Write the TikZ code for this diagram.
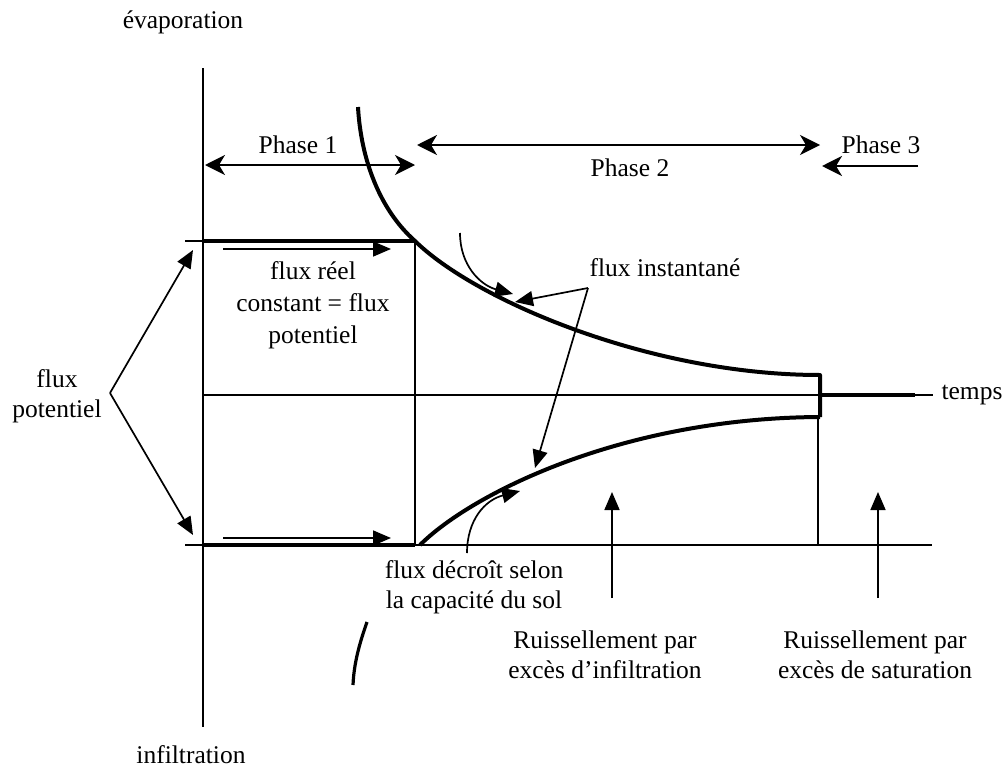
\documentclass[tikz,border=0pt]{standalone}
\usepackage{fontspec}
\setmainfont{Liberation Serif}
\usetikzlibrary{arrows.meta}
\begin{document}
\begin{tikzpicture}[x=1pt,y=-1pt,
  lbl/.style={font=\fontsize{25.5}{30}\selectfont, inner sep=0pt, align=center},
  thinln/.style={line width=1.7pt},
  thickln/.style={line width=4pt},
  tri/.style={line width=1.7pt, -{Triangle[length=18pt,width=15pt]}},
  dbl/.style={line width=1.7pt, {Stealth[length=20pt,width=20pt,inset=6pt]}-{Stealth[length=20pt,width=20pt,inset=6pt]}},
  sgl/.style={line width=1.7pt, -{Stealth[length=20pt,width=20pt,inset=6pt]}}]
\useasboundingbox (0,0) rectangle (1007,771);

% ---- coordinates
\coordinate (vTop) at (203,68);
\coordinate (vBot) at (203,727);
\coordinate (tL) at (185,241);
\coordinate (tA) at (203,241);
\coordinate (tB) at (415,241);
\coordinate (mA) at (203,395);
\coordinate (mB) at (933,395);
\coordinate (mThickA) at (820,395);
\coordinate (mThickB) at (915,395);
\coordinate (bL) at (185,545);
\coordinate (bA) at (203,545);
\coordinate (bB) at (415,545);
\coordinate (bR) at (932,545);
\coordinate (vmA) at (415,241);
\coordinate (vmB) at (415,545);
\coordinate (vrA) at (818,417);
\coordinate (vrB) at (818,545);
\coordinate (upS) at (358,107);
\coordinate (stepA) at (820,375);
\coordinate (stepB) at (820,417);
\coordinate (lowS) at (420,545);

% ---- axes and grid lines
\draw[thinln] (vTop) -- (vBot);
\draw[thinln] (tL) -- (tA);
\draw[thickln] (tA) -- (tB);
\draw[thinln] (mA) -- (mB);
\draw[thickln] (mThickA) -- (mThickB);
\draw[thinln] (bL) -- (bR);
\draw[thickln] (bA) -- (bB);
\draw[thinln] (vmA) -- (vmB);
\draw[thinln] (vrA) -- (vrB);

% ---- curves
\draw[thickln, line join=round] (upS) .. controls (361,160) and (380,210) .. (tB)
  .. controls (475,300) and (650,375) .. (stepA) -- (stepB);
\draw[thickln] (lowS) .. controls (470,495) and (620,418) .. (stepB);
\draw[line width=3.2pt] (367,622) .. controls (360,642) and (354,662) .. (353,685);

% ---- text
\node[lbl] (ev) at (183,22) {évaporation};
\node[lbl] (inf) at (191,755) {infiltration};
\node[lbl] (p1) at (298,145) {Phase 1};
\node[lbl] (p2) at (630,168) {Phase 2};
\node[lbl] (p3) at (881,145) {Phase 3};
\node[lbl, font=\fontsize{25.5}{32}\selectfont] (fr) at (313,305) {flux réel\\constant = flux\\potentiel};
\node[lbl] (fp) at (57,396) {flux\\potentiel};
\node[lbl] (fi) at (665,268) {flux instantané};
\node[lbl] (fd) at (474,587) {flux décroît selon\\la capacité du sol};
\node[lbl] (r1) at (605,655) {Ruissellement par\\excès d’infiltration};
\node[lbl] (r2) at (875,655) {Ruissellement par\\excès de saturation};
\node[lbl] (tp) at (972,395) {temps};

% ---- phase arrows
\coordinate (p1L) at (205,165);
\coordinate (p1R) at (415,165);
\coordinate (p2L) at (417,145);
\coordinate (p2R) at (820,145);
\coordinate (p3S) at (918,166);
\coordinate (p3E) at (822,166);
\draw[dbl] (p1L) -- (p1R);
\draw[dbl] (p2L) -- (p2R);
\draw[sgl] (p3S) -- (p3E);

% ---- flux potentiel arrows
\coordinate (fpApex) at (110,393);
\coordinate (fpTop) at (193,250);
\coordinate (fpBot) at (193,535);
\draw[tri] (fpApex) -- (fpTop);
\draw[tri] (fpApex) -- (fpBot);

% ---- flux reel arrows
\coordinate (frTa) at (223,249);
\coordinate (frTb) at (391,249);
\coordinate (frBa) at (223,538);
\coordinate (frBb) at (391,538);
\draw[tri] (frTa) -- (frTb);
\draw[tri] (frBa) -- (frBb);

% ---- flux instantane arrows
\coordinate (fiApex) at (588,288);
\coordinate (fiUp) at (515,302);
\coordinate (fiLow) at (535,468);
\draw[tri] (fiApex) -- (fiUp);
\draw[tri] (fiApex) -- (fiLow);
\coordinate (cuA) at (460,233);
\coordinate (cuB) at (513,294);
\draw[tri] (cuA) .. controls (460,265) and (480,285) .. (cuB);

% ---- flux decroit arrow
\coordinate (cdA) at (467,553);
\coordinate (cdB) at (520,491);
\draw[tri] (cdA) .. controls (467,520) and (485,500) .. (cdB);

% ---- ruissellement arrows
\coordinate (r1A) at (612,598);
\coordinate (r1B) at (612,492);
\coordinate (r2A) at (878,598);
\coordinate (r2B) at (878,492);
\draw[tri] (r1A) -- (r1B);
\draw[tri] (r2A) -- (r2B);
\end{tikzpicture}
\end{document}
